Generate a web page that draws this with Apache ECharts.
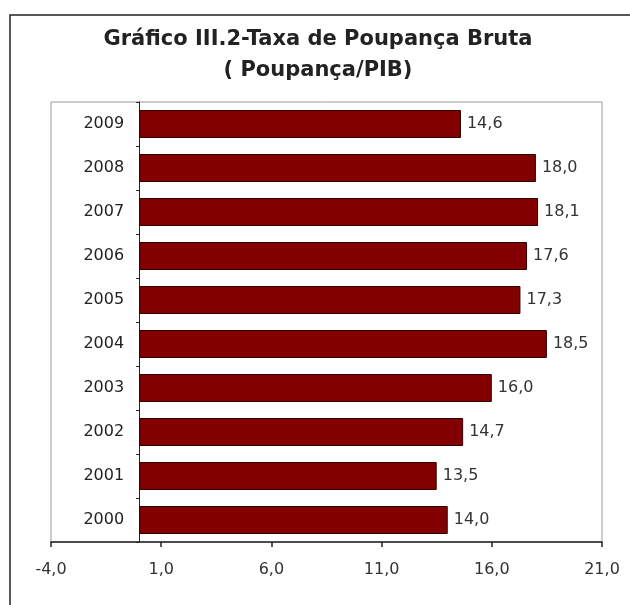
<!DOCTYPE html>
<html>
<head>
<meta charset="utf-8">
<style>
    html, body { margin: 0; padding: 0; background: #fff; }
    #chart { width: 630px; height: 605px; }
</style>
<script src="https://cdn.jsdelivr.net/npm/echarts@6/dist/echarts.min.js"></script>
</head>
<body>
<div id="chart"></div>
<script>
// dados do gráfico
const titleLines = ['Gráfico III.2-Taxa de Poupança Bruta', '( Poupança/PIB)'];
const years = ['2000', '2001', '2002', '2003', '2004', '2005', '2006', '2007', '2008', '2009'];
const savingsRate = [14.0, 13.5, 14.7, 16.0, 18.5, 17.3, 17.6, 18.1, 18.0, 14.6];
const axisMin = -4;
const axisMax = 21;
const axisStep = 5;

const fmt = v => Number(v).toFixed(1).replace('.', ',');

// o eixo das categorias cruza no zero: desloca-o para dentro da grelha
const gridLeft = 51;
const gridRight = 28;
const plotWidth = 630 - gridLeft - gridRight;
const zeroOffset = plotWidth * (0 - axisMin) / (axisMax - axisMin);

let myChart = echarts.init(document.getElementById('chart'));
myChart.setOption({
    animation: false,
    backgroundColor: '#fff',
    title: {
        text: titleLines[0] + '\n' + titleLines[1],
        left: 313,
        textAlign: 'center',
        top: 19,
        textStyle: {
            fontFamily: 'DejaVu Sans',
            fontSize: 21,
            fontWeight: 'bold',
            color: '#222',
            lineHeight: 31
        }
    },
    graphic: [{
        type: 'rect',
        shape: { x: 10, y: 15, width: 640, height: 620 },
        style: { fill: 'none', stroke: '#222', lineWidth: 1.5 },
        silent: true
    }],
    grid: {
        left: gridLeft,
        right: gridRight,
        top: 102,
        bottom: 63,
        outerBoundsMode: 'none',
        containLabel: false,
        show: true,
        borderColor: '#999',
        borderWidth: 1,
        backgroundColor: '#fff'
    },
    xAxis: {
        type: 'value',
        min: axisMin,
        max: axisMax,
        interval: axisStep,
        splitLine: { show: false },
        axisLine: { show: true, lineStyle: { color: '#222', width: 1.5 } },
        axisTick: { show: true, length: 5, lineStyle: { color: '#222', width: 1.5 } },
        axisLabel: {
            margin: 20,
            fontFamily: 'DejaVu Sans',
            fontSize: 16,
            color: '#333',
            formatter: fmt
        }
    },
    yAxis: {
        type: 'category',
        data: years,
        position: 'left',
        offset: -zeroOffset,
        axisLine: { show: true, onZero: false, lineStyle: { color: '#222', width: 1 } },
        axisTick: { show: true, length: 3, lineStyle: { color: '#222' } },
        axisLabel: {
            margin: 15,
            fontFamily: 'DejaVu Sans',
            fontSize: 16,
            color: '#222'
        }
    },
    series: [{
        type: 'bar',
        data: savingsRate,
        barWidth: 28,
        itemStyle: {
            color: '#820000',
            borderColor: '#2a0000',
            borderWidth: 1
        },
        label: {
            show: true,
            position: 'right',
            distance: 6,
            fontFamily: 'DejaVu Sans',
            fontSize: 16,
            color: '#333',
            formatter: p => fmt(p.value)
        }
    }]
});
</script>
</body>
</html>
